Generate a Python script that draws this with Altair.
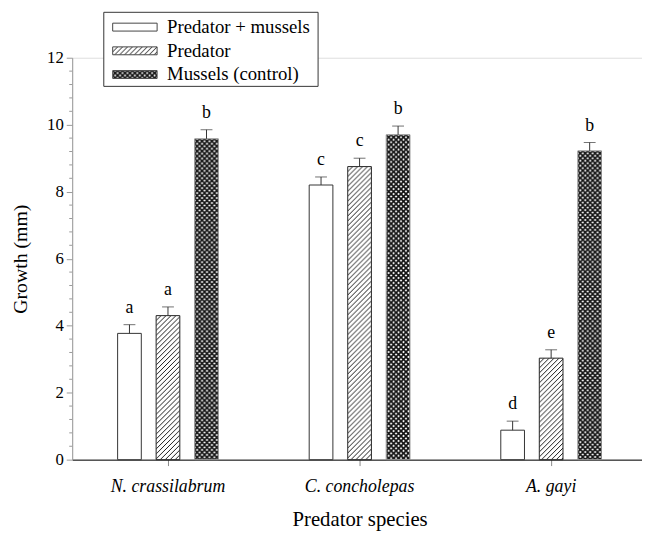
import base64
import altair as alt
import pandas as pd

# ---------------- data ----------------
groups = ["N. crassilabrum", "C. concholepas", "A. gayi"]
series = ["Predator + mussels", "Predator", "Mussels (control)"]

pred_mussels = [3.77, 8.20, 0.88]
pred_mussels_se = [0.26, 0.24, 0.27]
predator = [4.30, 8.75, 3.03]
predator_se = [0.26, 0.25, 0.25]
mussels = [9.58, 9.70, 9.22]
mussels_se = [0.27, 0.26, 0.25]

letters_pm = ["a", "c", "d"]
letters_pr = ["a", "c", "e"]
letters_mc = ["b", "b", "b"]

y_ticks = [0, 2, 4, 6, 8, 10, 12]
y_minor = [0.4, 0.8, 1.2, 1.6, 2.4, 2.8, 3.2, 3.6, 4.4, 4.8, 5.2, 5.6,
           6.4, 6.8, 7.2, 7.6, 8.4, 8.8, 9.2, 9.6, 10.4, 10.8, 11.2, 11.6]

rows = []
for s, vals, ses, lets in zip(series,
                              [pred_mussels, predator, mussels],
                              [pred_mussels_se, predator_se, mussels_se],
                              [letters_pm, letters_pr, letters_mc]):
    for g, v, e, l in zip(groups, vals, ses, lets):
        rows.append({"group": g, "series": s, "value": v, "top": round(v + e, 3), "letter": l})
df = pd.DataFrame(rows)
minor_df = pd.DataFrame({"value": y_minor})

FONT = "Liberation Serif"


# ---------------- patterns (style only) ----------------
def svg_uri(body):
    svg = ("<svg xmlns='http://www.w3.org/2000/svg' width='100%' height='100%'>"
           + body + "</svg>")
    return "data:image/svg+xml;base64," + base64.b64encode(svg.encode()).decode()


hatch_uri = svg_uri(
    "<defs><pattern id='h' width='5' height='5' patternUnits='userSpaceOnUse'>"
    "<path d='M-1,1 L1,-1 M0,5 L5,0 M4,6 L6,4' stroke='#1a1a1a' stroke-width='1'/>"
    "</pattern></defs>"
    "<rect width='100%' height='100%' fill='white'/>"
    "<rect width='100%' height='100%' fill='url(#h)'/>"
)
cross_uri = svg_uri(
    "<defs><pattern id='c' width='5' height='5' patternUnits='userSpaceOnUse'>"
    "<path d='M-1,-1 L6,6 M-1,6 L6,-1' stroke='#111' stroke-width='1.6'/>"
    "</pattern></defs>"
    "<rect width='100%' height='100%' fill='white'/>"
    "<rect width='100%' height='100%' fill='url(#c)'/>"
)
pattern_of = {series[1]: hatch_uri, series[2]: cross_uri}

# ---------------- encodings ----------------
x_enc = alt.X(
    "group:N", sort=groups,
    scale=alt.Scale(range=[0, 582], paddingInner=0, paddingOuter=0),
    axis=alt.Axis(
        title="Predator species", labelAngle=0, labelFontStyle="italic",
        labelFontSize=18, labelPadding=12, labelColor="black",
        tickSize=6, tickColor="#888", domainColor="black",
        titleFontSize=21, titlePadding=14, titleFontWeight="normal",
        titleColor="black",
    ),
)
xo_enc = alt.XOffset("series:N", sort=series,
                     scale=alt.Scale(range=[46, 148], paddingInner=0.385, paddingOuter=0))
y_scale = alt.Scale(domain=[0, 12], nice=False, zero=True)
y_axis = alt.Axis(
    title="Growth (mm)", values=y_ticks, grid=False,
    tickSize=6, tickColor="#999", domainColor="#999",
    labelFontSize=17, labelPadding=3, labelColor="black",
    titleFontSize=20, titlePadding=16, titleFontWeight="normal",
    titleColor="black",
)
y_enc = alt.Y("value:Q", scale=y_scale, axis=y_axis)
y_top = alt.Y("top:Q", scale=y_scale, axis=y_axis)

base = alt.Chart(df)

layers = []
# patterned fills
for s in series[1:]:
    layers.append(
        base.transform_filter(alt.datum.series == s)
        .mark_image(aspect=False)
        .encode(x=x_enc, xOffset=xo_enc, y=y_enc, y2=alt.datum(0),
                url=alt.value(pattern_of[s]))
    )
# white fill for the first series
layers.append(
    base.transform_filter(alt.datum.series == series[0])
    .mark_bar(fill="white")
    .encode(x=x_enc, xOffset=xo_enc, y=y_enc)
)
# bar outlines
layers.append(
    base.mark_bar(fillOpacity=0, strokeWidth=1)
    .encode(x=x_enc, xOffset=xo_enc, y=y_enc,
            stroke=alt.Stroke("series:N",
                              scale=alt.Scale(domain=series, range=["#333", "#222", "#888"]),
                              legend=None))
)
# error bars (upper only)
layers.append(
    base.mark_rule(color="#333", strokeWidth=1)
    .encode(x=x_enc, xOffset=xo_enc, y=y_enc, y2="top:Q")
)
layers.append(
    base.mark_tick(orient="horizontal", size=12, thickness=1, color="#333")
    .encode(x=x_enc, xOffset=xo_enc, y=y_top)
)
# significance letters
layers.append(
    base.mark_text(font=FONT, fontSize=18, dy=-17, baseline="middle", color="black")
    .encode(x=x_enc, xOffset=xo_enc, y=y_top, text="letter:N")
)
# minor ticks on y axis
layers.append(
    alt.Chart(minor_df).mark_rule(color="#999", strokeWidth=1)
    .encode(y=y_enc, x=alt.value(-3), x2=alt.value(0))
)

# ---------------- legend (drawn manually to show patterns) ----------------
one = alt.Data(values=[{"k": 1}])
layers.append(
    alt.Chart(one).mark_rect(fill="white", stroke="#333", strokeWidth=1)
    .encode(x=alt.value(32), x2=alt.value(249), y=alt.value(-46), y2=alt.value(29))
)
legend_y = [-31, -7, 17]
for i, s in enumerate(series):
    cy = legend_y[i]
    if s in pattern_of:
        layers.append(
            alt.Chart(one).mark_image(aspect=False)
            .encode(x=alt.value(41), x2=alt.value(86), y=alt.value(cy - 4),
                    y2=alt.value(cy + 4), url=alt.value(pattern_of[s]))
        )
    else:
        layers.append(
            alt.Chart(one).mark_rect(fill="white")
            .encode(x=alt.value(41), x2=alt.value(86), y=alt.value(cy - 4),
                    y2=alt.value(cy + 4))
        )
    layers.append(
        alt.Chart(one).mark_rect(fillOpacity=0, stroke="#444", strokeWidth=1)
        .encode(x=alt.value(41), x2=alt.value(86), y=alt.value(cy - 4),
                y2=alt.value(cy + 4))
    )
    layers.append(
        alt.Chart(one).mark_text(text=s, font=FONT, fontSize=19, align="left",
                                 baseline="middle", color="black")
        .encode(x=alt.value(96), y=alt.value(cy))
    )

chart = (
    alt.layer(*layers)
    .properties(width=577, height=407,
                autosize=alt.AutoSizeParams(type="none"),
                padding={"left": 65, "top": 47, "right": 0, "bottom": 78})
    .configure_view(stroke=None)
    .configure(font=FONT)
    .configure_axis(labelFont=FONT, titleFont=FONT)
)

chart.save("out.html", embed_options={"renderer": "svg", "actions": False})
